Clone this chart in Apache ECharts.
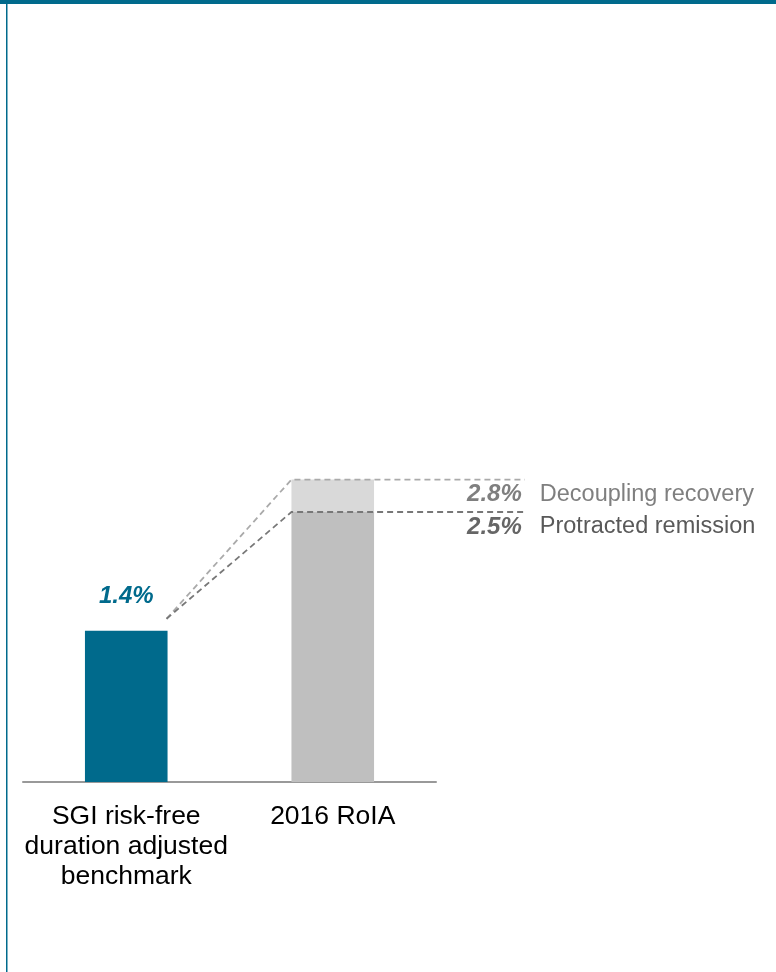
<!DOCTYPE html>
<html>
<head>
<meta charset="utf-8">
<script src="https://cdn.jsdelivr.net/npm/echarts@6/dist/echarts.min.js"></script>
<style>
html,body{margin:0;padding:0;background:#fff;}
#chart{width:776px;height:972px;}
</style>
</head>
<body>
<div id="chart"></div>
<script>
const categories = ['SGI risk-free\nduration adjusted\nbenchmark', '2016 RoIA'];
const baseValues = [1.4, 2.5];
const upsideValues = [0, 0.3];
const scenarioValues = [2.8, 2.5];
const scenarioNames = ['Decoupling recovery', 'Protracted remission'];
const benchmarkLabel = ['1.4%'];

const TEAL = '#006a8c';
const chart = echarts.init(document.getElementById('chart'), null, {renderer: 'canvas'});

const scenarioLineColors = ['#aaaaaa', '#777777'];
const scenarioPctColors = ['#7f7f7f', '#666666'];
const scenarioNameColors = ['#7f7f7f', '#595959'];

chart.setOption({
  animation: false,
  backgroundColor: '#fff',
  graphic: [
    {type: 'rect', shape: {x: 0, y: 0, width: 776, height: 4}, style: {fill: TEAL}, z: 10},
    {type: 'rect', shape: {x: 6, y: 0, width: 1.5, height: 972}, style: {fill: TEAL}, z: 10}
  ],
  grid: {left: 23, right: 340, top: 134, bottom: 190, containLabel: false},
  xAxis: {
    type: 'category',
    data: categories,
    axisLine: {lineStyle: {color: '#999999', width: 2}},
    axisTick: {show: false},
    axisLabel: {
      color: '#000',
      fontFamily: 'Liberation Sans, Arial, sans-serif',
      fontSize: 26.5,
      lineHeight: 30,
      margin: 20,
      interval: 0
    }
  },
  yAxis: {
    type: 'value', min: 0, max: 6,
    show: false, splitLine: {show: false}
  },
  series: [
    {
      type: 'bar', stack: 'a', barWidth: '40%',
      data: baseValues.map((v, i) => ({value: v, itemStyle: {color: i === 0 ? TEAL : '#bfbfbf'}})),
      label: {
        show: true, position: 'top', distance: 22,
        formatter: (p) => p.dataIndex === 0 ? benchmarkLabel[0] : '',
        color: TEAL, fontStyle: 'italic', fontWeight: 'bold', fontSize: 24,
        fontFamily: 'Liberation Sans, Arial, sans-serif'
      }
    },
    {
      type: 'bar', stack: 'a', barWidth: '40%',
      data: upsideValues,
      itemStyle: {color: '#d9d9d9'}
    },
    {
      type: 'custom',
      data: [[0, baseValues[0]]],
      z: 5,
      renderItem: function (params, api) {
        const band = api.size([1, 0])[0];
        const barW = band * 0.4;
        const p0 = api.coord([0, baseValues[0]]);
        const start = [p0[0] + barW / 2 - 1, p0[1] - 12];
        const children = [];
        scenarioValues.forEach((v, i) => {
          const ps = api.coord([1, v]);
          const left = ps[0] - barW / 2;
          const endX = ps[0] + band * 0.93;
          children.push({
            type: 'polyline',
            shape: {points: [start, [left, ps[1]], [endX, ps[1]]]},
            style: {stroke: scenarioLineColors[i], lineWidth: 1.8, lineDash: [6, 4], fill: null}
          });
          children.push({
            type: 'text',
            style: {
              x: endX - 3, y: ps[1] + 15, text: v.toFixed(1) + '%',
              textAlign: 'right', textVerticalAlign: 'middle',
              fill: scenarioPctColors[i],
              font: 'italic bold 24px "Liberation Sans", Arial, sans-serif'
            }
          });
          children.push({
            type: 'text',
            style: {
              x: endX + 15, y: ps[1] + 15, text: scenarioNames[i],
              textAlign: 'left', textVerticalAlign: 'middle',
              fill: scenarioNameColors[i],
              font: '23.5px "Liberation Sans", Arial, sans-serif'
            }
          });
        });
        return {type: 'group', children: children};
      }
    }
  ]
});
</script>
</body>
</html>
